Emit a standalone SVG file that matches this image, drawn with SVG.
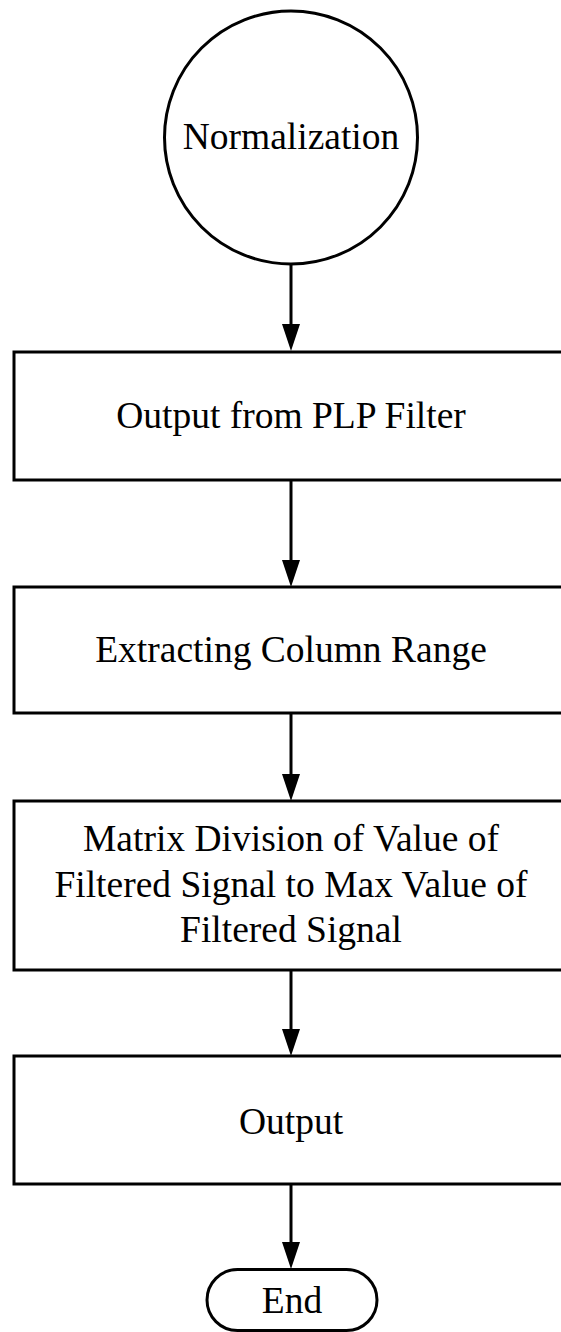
<svg xmlns="http://www.w3.org/2000/svg" width="561" height="1332" viewBox="0 0 561 1332">
  <style>
    .shape { fill: #ffffff; stroke: #000000; stroke-width: 3; }
    .label { font-family: "Liberation Serif", "Times New Roman", serif; font-size: 37.5px; fill: #000000; text-anchor: middle; }
    .flow { stroke: #000000; stroke-width: 3; fill: none; marker-end: url(#arrow); }
  </style>
  <defs>
    <marker id="arrow" markerUnits="userSpaceOnUse" viewBox="0 0 27 18" markerWidth="27" markerHeight="18" refX="17" refY="9" orient="auto">
      <path d="M0,0 L27,9 L0,18 Z" fill="#000000"/>
    </marker>
  </defs>

  <rect width="561" height="1332" fill="#ffffff"/>

  <g id="connectors">
    <line class="flow" x1="291" y1="264" x2="291" y2="341"/>
    <line class="flow" x1="291" y1="481" x2="291" y2="577"/>
    <line class="flow" x1="291" y1="714" x2="291" y2="791"/>
    <line class="flow" x1="291" y1="971" x2="291" y2="1046"/>
    <line class="flow" x1="291" y1="1185" x2="291" y2="1259"/>
  </g>

  <g id="normalization">
    <circle class="shape" cx="291" cy="137.5" r="126.5"/>
    <text class="label" x="291" y="149">Normalization</text>
  </g>

  <g id="plp-output">
    <rect class="shape" x="14" y="352" width="556" height="128"/>
    <text class="label" x="291" y="428">Output from PLP Filter</text>
  </g>

  <g id="column-range">
    <rect class="shape" x="14" y="587" width="556" height="126"/>
    <text class="label" x="291" y="662">Extracting Column Range</text>
  </g>

  <g id="matrix-division">
    <rect class="shape" x="14" y="801" width="556" height="169"/>
    <text class="label" x="291" y="851">Matrix Division of Value of</text>
    <text class="label" x="291" y="897">Filtered Signal to Max Value of</text>
    <text class="label" x="291" y="942">Filtered Signal</text>
  </g>

  <g id="output">
    <rect class="shape" x="14" y="1056" width="556" height="128"/>
    <text class="label" x="291" y="1134">Output</text>
  </g>

  <g id="end">
    <rect class="shape" x="207" y="1269.5" width="170" height="61" rx="30.5" ry="30.5"/>
    <text class="label" x="292" y="1313">End</text>
  </g>
</svg>
